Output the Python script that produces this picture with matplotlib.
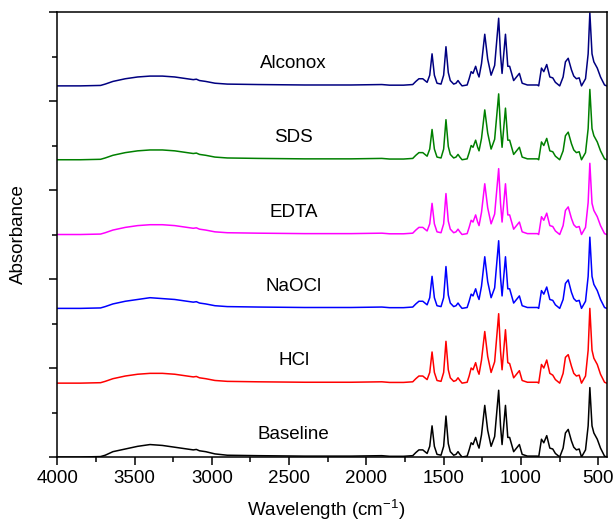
import matplotlib
matplotlib.use("Agg")
import matplotlib.pyplot as plt
from matplotlib.ticker import MultipleLocator, NullFormatter

# wavenumber grid (cm-1)
wavenumber = [4000, 3850, 3720, 3690, 3640, 3560, 3480, 3400, 3320, 3240, 3160, 3120, 3100, 3080,
              3040, 2980, 2900, 2700, 2400, 2100, 1900, 1850, 1760, 1700, 1680, 1660, 1635, 1607,
              1590, 1575, 1560, 1543, 1517, 1500, 1485, 1470, 1457, 1435, 1420, 1407, 1395, 1381,
              1348, 1335, 1322, 1310, 1293, 1280, 1271, 1255, 1234, 1215, 1193, 1170, 1144, 1132,
              1122, 1100, 1085, 1073, 1047, 1010, 992, 958, 893, 885, 867, 852, 833, 813, 794, 777,
              749, 727, 712, 694, 673, 658, 641, 623, 608, 582, 565, 554, 540, 528, 506, 485, 459, 445]

baseline = [0.0, 0.0, 0.005, 0.02, 0.06, 0.09, 0.12, 0.14, 0.13, 0.11, 0.09, 0.08, 0.085, 0.07,
            0.06, 0.035, 0.02, 0.015, 0.01, 0.01, 0.015, 0.008, 0.008, 0.015, 0.05, 0.08, 0.08, 0.04,
            0.12, 0.35, 0.12, 0.03, 0.02, 0.12, 0.46, 0.15, 0.06, 0.02, 0.03, 0.06, 0.03, 0.0,
            0.01, 0.08, 0.16, 0.14, 0.22, 0.14, 0.10, 0.25, 0.58, 0.30, 0.12, 0.23, 0.75, 0.35,
            0.14, 0.58, 0.22, 0.22, 0.06, 0.14, 0.03, 0.01, 0.01, 0.0, 0.20, 0.16, 0.24, 0.10, 0.09, 0.04,
            0.0, 0.10, 0.27, 0.31, 0.18, 0.11, 0.08, 0.09, 0.0, 0.08, 0.35, 0.78, 0.35, 0.27, 0.20, 0.10, 0.01, 0.0]

hcl = [0.0, 0.0, 0.005, 0.02, 0.05, 0.08, 0.10, 0.11, 0.11, 0.10, 0.08, 0.07, 0.075, 0.06,
       0.05, 0.03, 0.02, 0.015, 0.01, 0.01, 0.015, 0.008, 0.008, 0.015, 0.05, 0.08, 0.08, 0.04,
       0.12, 0.35, 0.12, 0.03, 0.02, 0.12, 0.47, 0.15, 0.06, 0.02, 0.03, 0.06, 0.03, 0.0,
       0.01, 0.08, 0.17, 0.15, 0.23, 0.14, 0.10, 0.26, 0.58, 0.30, 0.12, 0.24, 0.78, 0.36,
       0.15, 0.60, 0.23, 0.22, 0.06, 0.14, 0.03, 0.01, 0.01, 0.0, 0.21, 0.17, 0.26, 0.11, 0.09, 0.04,
       0.0, 0.11, 0.29, 0.32, 0.19, 0.11, 0.08, 0.09, 0.0, 0.08, 0.37, 0.84, 0.37, 0.28, 0.21, 0.10, 0.01, 0.0]

naocl = [0.0, 0.0, 0.005, 0.02, 0.05, 0.08, 0.10, 0.12, 0.11, 0.10, 0.08, 0.07, 0.075, 0.06,
         0.05, 0.03, 0.02, 0.015, 0.01, 0.01, 0.015, 0.008, 0.008, 0.015, 0.05, 0.08, 0.08, 0.04,
         0.12, 0.36, 0.12, 0.03, 0.02, 0.12, 0.47, 0.15, 0.06, 0.02, 0.03, 0.06, 0.03, 0.0,
         0.01, 0.08, 0.16, 0.14, 0.22, 0.14, 0.10, 0.25, 0.58, 0.30, 0.12, 0.23, 0.76, 0.35,
         0.14, 0.58, 0.22, 0.22, 0.06, 0.14, 0.03, 0.01, 0.01, 0.0, 0.20, 0.16, 0.24, 0.10, 0.09, 0.04,
         0.0, 0.10, 0.28, 0.32, 0.18, 0.11, 0.08, 0.09, 0.0, 0.08, 0.36, 0.80, 0.36, 0.27, 0.20, 0.10, 0.01, 0.0]

edta = [0.0, 0.0, 0.005, 0.02, 0.05, 0.08, 0.10, 0.11, 0.11, 0.10, 0.08, 0.07, 0.075, 0.06,
        0.05, 0.03, 0.02, 0.015, 0.01, 0.01, 0.015, 0.008, 0.008, 0.015, 0.05, 0.08, 0.08, 0.04,
        0.12, 0.35, 0.12, 0.03, 0.02, 0.12, 0.46, 0.15, 0.06, 0.02, 0.03, 0.06, 0.03, 0.0,
        0.01, 0.08, 0.16, 0.14, 0.22, 0.14, 0.10, 0.25, 0.57, 0.30, 0.12, 0.23, 0.74, 0.35,
        0.14, 0.57, 0.22, 0.22, 0.06, 0.14, 0.03, 0.01, 0.01, 0.0, 0.20, 0.16, 0.24, 0.10, 0.09, 0.04,
        0.0, 0.10, 0.27, 0.31, 0.18, 0.11, 0.08, 0.09, 0.0, 0.08, 0.36, 0.80, 0.35, 0.27, 0.20, 0.10, 0.01, 0.0]

sds = [0.0, 0.0, 0.005, 0.02, 0.05, 0.08, 0.10, 0.11, 0.11, 0.10, 0.08, 0.07, 0.075, 0.06,
       0.05, 0.03, 0.02, 0.015, 0.01, 0.01, 0.015, 0.008, 0.008, 0.015, 0.05, 0.08, 0.08, 0.04,
       0.12, 0.34, 0.12, 0.03, 0.02, 0.12, 0.45, 0.15, 0.06, 0.02, 0.03, 0.06, 0.03, 0.0,
       0.01, 0.08, 0.16, 0.14, 0.22, 0.14, 0.10, 0.24, 0.56, 0.30, 0.12, 0.23, 0.74, 0.35,
       0.14, 0.58, 0.22, 0.22, 0.06, 0.14, 0.03, 0.01, 0.01, 0.0, 0.20, 0.16, 0.24, 0.10, 0.09, 0.04,
       0.0, 0.10, 0.27, 0.31, 0.18, 0.11, 0.08, 0.09, 0.0, 0.08, 0.35, 0.79, 0.35, 0.27, 0.20, 0.10, 0.01, 0.0]

alconox = [0.0, 0.0, 0.005, 0.02, 0.05, 0.08, 0.10, 0.11, 0.11, 0.10, 0.08, 0.07, 0.075, 0.06,
           0.05, 0.03, 0.02, 0.015, 0.01, 0.01, 0.015, 0.008, 0.008, 0.015, 0.05, 0.08, 0.08, 0.04,
           0.12, 0.36, 0.12, 0.03, 0.02, 0.12, 0.44, 0.15, 0.06, 0.02, 0.03, 0.06, 0.03, 0.0,
           0.01, 0.08, 0.16, 0.14, 0.22, 0.14, 0.10, 0.25, 0.58, 0.30, 0.12, 0.23, 0.76, 0.35,
           0.14, 0.58, 0.22, 0.22, 0.06, 0.14, 0.03, 0.01, 0.01, 0.0, 0.20, 0.16, 0.24, 0.10, 0.09, 0.04,
           0.0, 0.10, 0.27, 0.31, 0.18, 0.11, 0.08, 0.09, 0.0, 0.08, 0.36, 0.82, 0.36, 0.27, 0.20, 0.10, 0.01, 0.0]

names = ["Baseline", "HCl", "NaOCl", "EDTA", "SDS", "Alconox"]
offsets = [0.0, 0.83, 1.67, 2.50, 3.34, 4.17]
colors = ["black", "#ff0000", "#0000ff", "#ff00ff", "#008000", "#000080"]
spectra = [baseline, hcl, naocl, edta, sds, alconox]

plt.rcParams["font.family"] = ["Liberation Sans", "DejaVu Sans"]
plt.rcParams["mathtext.default"] = "regular"

fig = plt.figure(figsize=(6.14, 5.22), dpi=100)
ax = fig.add_axes([0.0933, 0.1245, 0.8948, 0.8525])

for name, off, col, spec in zip(names, offsets, colors, spectra):
    ax.plot(wavenumber, [v + off for v in spec], color=col, lw=1.1)
    ax.text(2470, off + 0.25, name, ha="center", va="center", fontsize=13.5)

ax.set_xlim(4000, 445)
ax.set_ylim(0, 5)
ax.xaxis.set_major_locator(MultipleLocator(500))
ax.xaxis.set_minor_locator(MultipleLocator(250))
ax.yaxis.set_major_locator(MultipleLocator(1))
ax.yaxis.set_minor_locator(MultipleLocator(0.5))
ax.yaxis.set_major_formatter(NullFormatter())
ax.tick_params(which="major", length=5.8, width=1.1, labelsize=13.5)
ax.tick_params(which="minor", length=3.6, width=1.1)
for s in ax.spines.values():
    s.set_linewidth(1.1)

ax.set_xlabel("Wavelength (cm$^{-1}$)", fontsize=13.5)
ax.set_ylabel("Absorbance", fontsize=13.5)
ax.xaxis.set_label_coords(0.49, -0.093)
ax.yaxis.set_label_coords(-0.055, 0.5)

fig.savefig("out.png", dpi=100)
